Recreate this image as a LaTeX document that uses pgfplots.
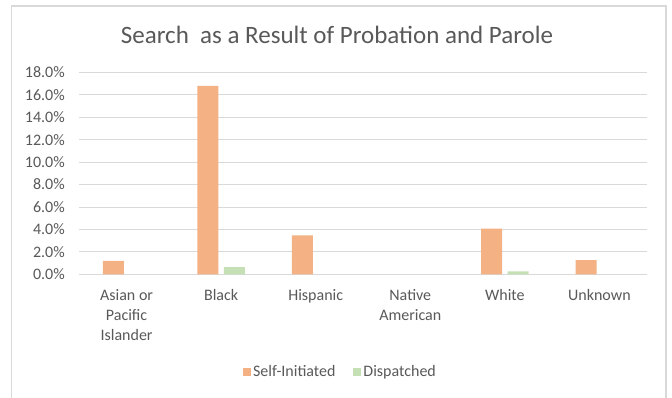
\documentclass[border=0pt]{standalone}
\usepackage{pgfplots}
\pgfplotsset{compat=1.18}
\usepackage{fontspec}
\setmainfont{Carlito}
\definecolor{selfc}{HTML}{F4B183}
\definecolor{dispc}{HTML}{C5E0B4}
\definecolor{gridc}{HTML}{D9D9D9}
\definecolor{txtc}{HTML}{595959}
\begin{document}
\begin{tikzpicture}[x=1bp,y=1bp]
\useasboundingbox (0,0) rectangle (672,397);
\fill[white] (0,0) rectangle (672,397);
\draw[gridc, line width=1.5bp] (11.5,-2) -- (11.5,391) -- (666,391) -- (666,-2);
\node[text=txtc, font=\fontsize{25bp}{28bp}\selectfont] at (337,362) {Search\ \ as a Result of Probation and Parole};
\begin{axis}[
  at={(79.3bp,122.7bp)}, anchor=south west,
  scale only axis, width=567.4bp, height=202bp,
  ybar=5.6bp, bar width=21bp,
  xmin=-0.5, xmax=5.5, ymin=0, ymax=18,
  xtick={0,1,2,3,4,5},
  xticklabels={{Asian or\\Pacific\\Islander},Black,Hispanic,{Native\\American},White,Unknown},
  xticklabel style={align=center, text=txtc, font=\fontsize{16bp}{20bp}\selectfont, yshift=-12bp},
  ytick={0,2,...,18},
  yticklabel={\pgfmathprintnumber[fixed,fixed zerofill,precision=1]{\tick}\%},
  yticklabel style={text=txtc, font=\fontsize{16bp}{17bp}\selectfont, xshift=-11bp},
  /pgf/number format/assume math mode=true,
  ymajorgrids, grid style={gridc, line width=0.75bp},
  axis line style={draw=none},
  axis x line*=bottom,
  x axis line style={gridc, line width=0.75bp},
  major tick length=0pt,
  legend style={at={(0.4603,-0.4837)}, anchor=center, draw=none, fill=none,
    legend columns=2, font=\fontsize{16bp}{17bp}\selectfont, text=txtc,
    /tikz/every even column/.append style={column sep=16bp}},
  legend image code/.code={\fill[#1] (0bp,-4bp) rectangle (8bp,4bp);},
]
\addplot[fill=selfc, draw=none] coordinates {(0,1.19) (1,16.8) (2,3.47) (4,4.06) (5,1.27)};
\addplot[fill=dispc, draw=none] coordinates {(1,0.65) (4,0.27)};
\legend{Self-Initiated,Dispatched}
\end{axis}
\end{tikzpicture}
\end{document}
